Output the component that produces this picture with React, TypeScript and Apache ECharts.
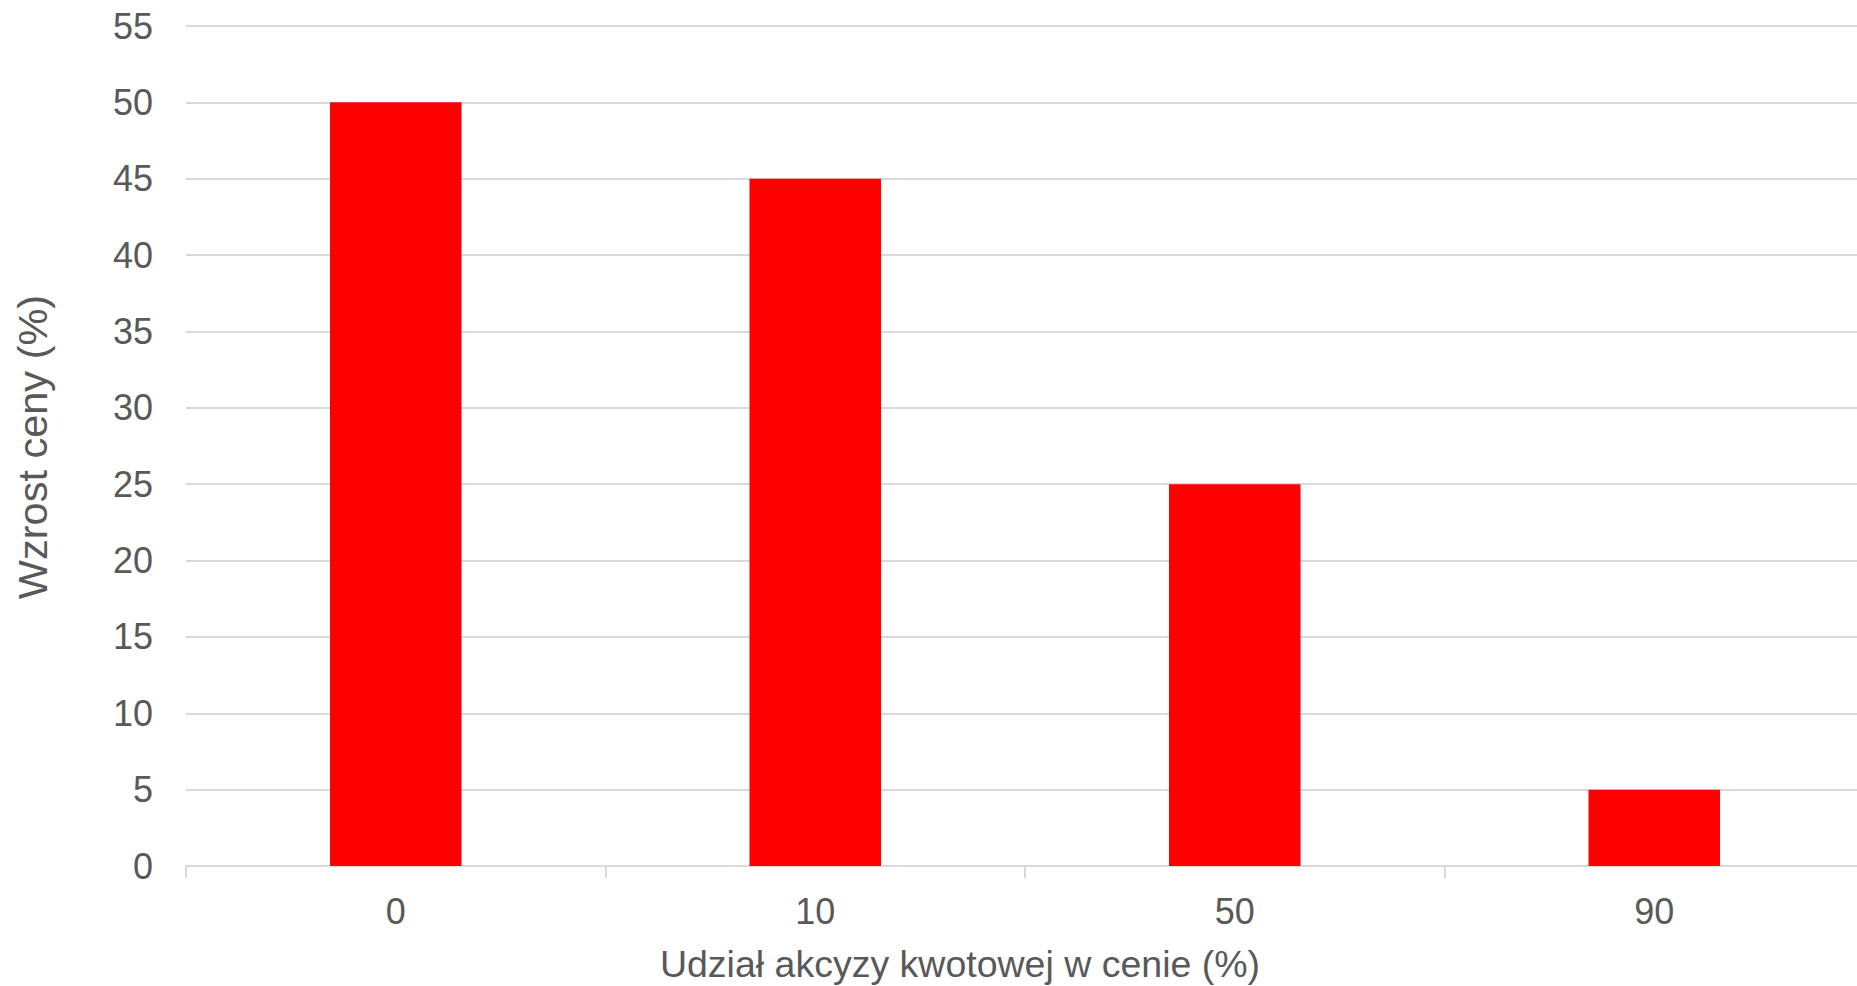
import React, { useEffect, useRef } from "react";
import * as echarts from "echarts";

const categories = ["0", "10", "50", "90"];
const priceIncrease = [50, 45, 25, 5];
const xTitle = "Udział akcyzy kwotowej w cenie (%)";
const yTitle = "Wzrost ceny (%)";

export default function App() {
  const ref = useRef<HTMLDivElement>(null);
  useEffect(() => {
    document.body.style.margin = "0";
    document.body.style.overflow = "hidden";
    document.documentElement.style.overflow = "hidden";
    const chart = echarts.init(ref.current!, null, { renderer: "svg" });
    const font = "Liberation Sans, Arial, sans-serif";
    const textColor = "#595959";
    chart.setOption({
      animation: false,
      backgroundColor: "#ffffff",
      grid: { left: 186, right: 0, top: 26, bottom: 120, containLabel: false },
      xAxis: {
        type: "category",
        data: categories,
        boundaryGap: true,
        axisLine: { show: true, lineStyle: { color: "#d9d9d9", width: 2 } },
        axisTick: { show: true, length: 12, lineStyle: { color: "#d9d9d9", width: 2 } },
        axisLabel: { color: textColor, fontSize: 36, fontFamily: font, margin: 27 },
        splitLine: { show: false },
      },
      yAxis: {
        type: "value",
        min: 0,
        max: 55,
        interval: 5,
        axisLine: { show: false },
        axisTick: { show: false },
        axisLabel: { color: textColor, fontSize: 36, fontFamily: font, margin: 33 },
        splitLine: { show: true, lineStyle: { color: "#d9d9d9", width: 2 } },
      },
      series: [
        {
          type: "bar",
          data: priceIncrease,
          barWidth: "31.35%",
          itemStyle: { color: "#ff0000" },
        },
      ],
      graphic: [
        {
          type: "text",
          x: 960,
          y: 964,
          style: {
            text: xTitle,
            fill: textColor,
            font: `37.5px ${font}`,
            align: "center",
            verticalAlign: "middle",
          },
        },
        {
          type: "text",
          x: 32,
          y: 447,
          rotation: Math.PI / 2,
          style: {
            text: yTitle,
            fill: textColor,
            font: `41.5px ${font}`,
            align: "center",
            verticalAlign: "middle",
          },
        },
      ],
    });
    return () => chart.dispose();
  }, []);
  return (
    <div
      ref={ref}
      style={{ position: "absolute", left: 0, top: 0, width: 1864, height: 986 }}
    />
  );
}
